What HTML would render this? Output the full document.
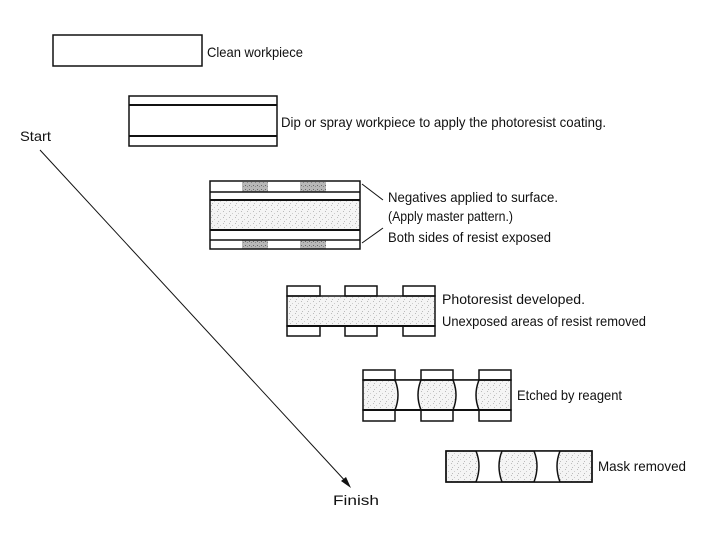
<!DOCTYPE html>
<html><head><style>html,body{margin:0;padding:0;background:#fff}svg{display:block}text{font-family:"Liberation Sans",Arial,sans-serif;font-size:14px;fill:#111}</style></head>
<body>
<svg width="720" height="540" viewBox="0 0 720 540" xmlns="http://www.w3.org/2000/svg">
<defs>
<pattern id="st" width="6" height="6" patternUnits="userSpaceOnUse">
<rect width="6" height="6" fill="#f4f4f4"/><rect x="1" y="1" width="1" height="1" fill="#bbb"/><rect x="4" y="3" width="1" height="1" fill="#ccc"/><rect x="2" y="5" width="1" height="1" fill="#bbb"/>
</pattern>
<pattern id="dk" width="4" height="4" patternUnits="userSpaceOnUse">
<rect width="4" height="4" fill="#b8b8b8"/><rect x="1" y="1" width="1" height="1" fill="#666"/><rect x="3" y="2" width="1" height="1" fill="#888"/>
</pattern>
</defs>
<g stroke="#111" stroke-width="1.5" fill="none">
<!-- 1 -->
<rect x="53" y="35" width="149" height="31" fill="#fff"/>
<!-- 2 -->
<rect x="129" y="96" width="148" height="50" fill="#fff"/>
<line x1="129" y1="105" x2="277" y2="105" stroke-width="2"/>
<line x1="129" y1="136" x2="277" y2="136" stroke-width="2"/>
<!-- 3 -->
<rect x="210" y="200" width="150" height="30" fill="url(#st)" stroke="none"/>
<rect x="242" y="182" width="26" height="10" fill="url(#dk)" stroke="none"/>
<rect x="300" y="182" width="26" height="10" fill="url(#dk)" stroke="none"/>
<rect x="242" y="240" width="26" height="9" fill="url(#dk)" stroke="none"/>
<rect x="300" y="240" width="26" height="9" fill="url(#dk)" stroke="none"/>
<rect x="210" y="181" width="150" height="68"/>
<line x1="210" y1="192" x2="360" y2="192"/>
<line x1="210" y1="200" x2="360" y2="200" stroke-width="2"/>
<line x1="210" y1="230" x2="360" y2="230" stroke-width="2"/>
<line x1="210" y1="240" x2="360" y2="240"/>
<line x1="383" y1="200" x2="362" y2="184" stroke-width="1"/>
<line x1="383" y1="228" x2="362" y2="243" stroke-width="1"/>
<!-- 4 -->
<rect x="287" y="296" width="148" height="30" fill="url(#st)"/>
<line x1="287" y1="326" x2="435" y2="326" stroke-width="2"/>
<rect x="287" y="286" width="33" height="10"/><rect x="345" y="286" width="32" height="10"/><rect x="403" y="286" width="32" height="10"/>
<rect x="287" y="326" width="33" height="10"/><rect x="345" y="326" width="32" height="10"/><rect x="403" y="326" width="32" height="10"/>
<!-- 5 -->
<rect x="363" y="380" width="148" height="30" fill="url(#st)"/>
<path d="M395 380 q6 15 0 30 L421 410 q-6 -15 0 -30 Z" fill="#fff" stroke="none"/>
<path d="M453 380 q6 15 0 30 L479 410 q-6 -15 0 -30 Z" fill="#fff" stroke="none"/>
<path d="M395 380 q6 15 0 30 M421 380 q-6 15 0 30 M453 380 q6 15 0 30 M479 380 q-6 15 0 30"/>
<line x1="363" y1="380" x2="511" y2="380"/><line x1="363" y1="410" x2="511" y2="410" stroke-width="2"/>
<rect x="363" y="370" width="32" height="10"/><rect x="421" y="370" width="32" height="10"/><rect x="479" y="370" width="32" height="10"/>
<rect x="363" y="410" width="32" height="11"/><rect x="421" y="410" width="32" height="11"/><rect x="479" y="410" width="32" height="11"/>
<!-- 6 -->
<rect x="446" y="451" width="146" height="31" fill="url(#st)"/>
<path d="M476 451 q6 15 0 31 L502 482 q-6 -16 0 -31 Z" fill="#fff" stroke="none"/>
<path d="M534 451 q6 15 0 31 L560 482 q-6 -16 0 -31 Z" fill="#fff" stroke="none"/>
<path d="M476 451 q6 15 0 31 M502 451 q-6 15 0 31 M534 451 q6 15 0 31 M560 451 q-6 15 0 31"/>
<rect x="446" y="451" width="146" height="31"/>
<!-- arrow -->
<line x1="40" y1="150" x2="348" y2="484" stroke-width="1"/>
</g>
<path d="M351 488 L341 481 L346 477 Z" fill="#111"/>
<text x="207" y="57" textLength="96" lengthAdjust="spacingAndGlyphs">Clean workpiece</text>
<text x="281" y="127" textLength="325" lengthAdjust="spacingAndGlyphs">Dip or spray workpiece to apply the photoresist coating.</text>
<text x="20" y="141" textLength="31" lengthAdjust="spacingAndGlyphs">Start</text>
<text x="388" y="202" textLength="170" lengthAdjust="spacingAndGlyphs">Negatives applied to surface.</text>
<text x="388" y="221" textLength="125" lengthAdjust="spacingAndGlyphs">(Apply master pattern.)</text>
<text x="388" y="242" textLength="163" lengthAdjust="spacingAndGlyphs">Both sides of resist exposed</text>
<text x="442" y="304" textLength="143" lengthAdjust="spacingAndGlyphs">Photoresist developed.</text>
<text x="442" y="326" textLength="204" lengthAdjust="spacingAndGlyphs">Unexposed areas of resist removed</text>
<text x="517" y="400" textLength="105" lengthAdjust="spacingAndGlyphs">Etched by reagent</text>
<text x="598" y="471" textLength="88" lengthAdjust="spacingAndGlyphs">Mask removed</text>
<text x="333" y="505" textLength="46" lengthAdjust="spacingAndGlyphs">Finish</text>
</svg>
</body></html>
